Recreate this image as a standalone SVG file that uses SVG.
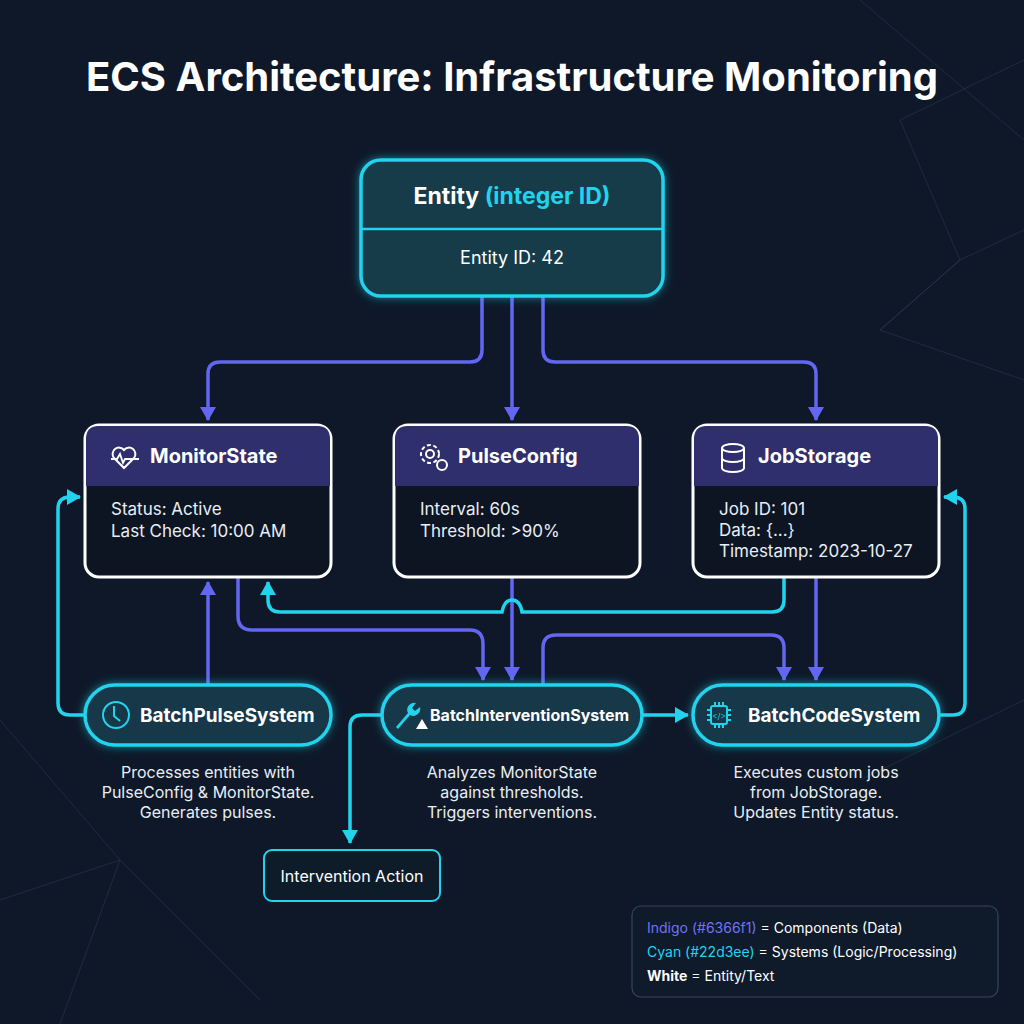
<svg xmlns="http://www.w3.org/2000/svg" width="1024" height="1024" viewBox="0 0 1024 1024">
<defs>
<style>
text{font-family:Inter,"Noto Sans","Liberation Sans",sans-serif;fill:#fff}
.t{font-weight:700}
.h{font-size:20px;font-weight:700}
.b{font-size:17px;fill:#e8eef5}
.d{font-size:16px;fill:#e8eef5;text-anchor:middle}
.ind{fill:none;stroke:#6366f1;stroke-width:3.5}
.cy{fill:none;stroke:#22d3ee;stroke-width:3.5}
.comp{fill:#0d1523;stroke:#fff;stroke-width:3}
.sys{fill:#12394a;stroke:#22d3ee;stroke-width:3.5;filter:url(#glow)}
.ic{fill:none;stroke:#fff;stroke-width:2}
.icc{fill:none;stroke:#22d3ee;stroke-width:2}
.bg{fill:none;stroke:#2a3a4e;stroke-width:1;opacity:.6}
.ctext{fill:#22d3ee}
.itext{fill:#7073f5}
</style>
<filter id="glow" x="-20%" y="-30%" width="140%" height="160%"><feGaussianBlur in="SourceAlpha" stdDeviation="5" result="b"/><feFlood flood-color="#22d3ee" flood-opacity=".55"/><feComposite in2="b" operator="in" result="g"/><feMerge><feMergeNode in="g"/><feMergeNode in="SourceGraphic"/></feMerge></filter>
<marker id="ai2" markerWidth="14" markerHeight="16" refX="13" refY="8" orient="auto" markerUnits="userSpaceOnUse"><path d="M0 0L14 8L0 16z" fill="#6366f1"/></marker>
<marker id="ac2" markerWidth="14" markerHeight="16" refX="13" refY="8" orient="auto" markerUnits="userSpaceOnUse"><path d="M0 0L14 8L0 16z" fill="#22d3ee"/></marker>
</defs>
<rect width="1024" height="1024" fill="#0e1828"/>
<g id="bgnet">
<path class="bg" d="M860 0L1024 140M900 120L1024 60M900 120L960 260L1024 230M960 260L880 330L1024 380M0 720L120 860L60 1024M120 860L260 1000M0 900L120 860M860 780L1024 700M880 330L960 260"/>
</g>
<text x="512" y="91" class="t" font-size="40" text-anchor="middle">ECS Architecture: Infrastructure Monitoring</text>

<g id="connectors">
<path class="ind" d="M482 296V350Q482 362 470 362H220Q208 362 208 374V420" marker-end="url(#ai2)"/>
<path class="ind" d="M512 296V420" marker-end="url(#ai2)"/>
<path class="ind" d="M543 296V350Q543 362 555 362H804Q816 362 816 374V420" marker-end="url(#ai2)"/>
<path class="ind" d="M238 577V616Q238 630 252 630H470Q483 630 483 644V680" marker-end="url(#ai2)"/>
<path class="ind" d="M512 577V680" marker-end="url(#ai2)"/>
<path class="cy" d="M784 577V600Q784 612 772 612H522Q520 600 512 600Q504 600 502 612H280Q268 612 268 600V582" marker-end="url(#ac2)"/>
<path class="ind" d="M543 685V648Q543 635 556 635H771Q784 635 784 648V680" marker-end="url(#ai2)"/>
<path class="ind" d="M816 577V680" marker-end="url(#ai2)"/>
<path class="ind" d="M208 685V582" marker-end="url(#ai2)"/>
<path class="cy" d="M85 715H70Q58 715 58 703V509Q58 497 70 497H80" marker-end="url(#ac2)"/>
<path class="cy" d="M939 715H953Q965 715 965 703V509Q965 497 953 497H944" marker-end="url(#ac2)"/>
<path class="cy" d="M642 715H688" marker-end="url(#ac2)"/>
<path class="cy" d="M382 715H362Q350 715 350 727V843" marker-end="url(#ac2)"/>
</g>

<g id="entity">
<rect x="361" y="160" width="302" height="136" rx="20" fill="#123a4a" stroke="#22d3ee" stroke-width="3.5" filter="url(#glow)"/>
<line x1="362" y1="229" x2="662" y2="229" stroke="#22d3ee" stroke-width="2.5"/>
<text x="512" y="204" font-size="23" font-weight="700" text-anchor="middle">Entity <tspan class="ctext">(integer ID)</tspan></text>
<text x="512" y="264" font-size="18" text-anchor="middle">Entity ID: 42</text>
</g>

<g id="monitorstate">
<rect class="comp" x="85" y="425" width="246" height="152" rx="14"/>
<path d="M99 426H317Q330 426 330 439V486H86V439Q86 426 99 426Z" fill="#2e2f6c"/>
<path class="ic" d="M124 468l-10-10a6 6 0 0 1 10-8 6 6 0 0 1 10 8z"/>
<path d="M111 459h6l3-5 3 9 2-4h14" fill="none" stroke="#fff" stroke-width="1.8"/>
<text x="150" y="463" class="h">MonitorState</text>
<text x="111" y="515" class="b">Status: Active</text>
<text x="111" y="537" class="b">Last Check: 10:00 AM</text>
</g>
<g id="pulseconfig">
<rect class="comp" x="394" y="425" width="246" height="152" rx="14"/>
<path d="M408 426H626Q639 426 639 439V486H395V439Q395 426 408 426Z" fill="#2e2f6c"/>
<circle class="ic" cx="430" cy="454" r="9" stroke-dasharray="4 2.5"/>
<circle class="ic" cx="430" cy="454" r="4"/>
<circle class="ic" cx="442" cy="465" r="5"/>
<text x="458" y="463" class="h">PulseConfig</text>
<text x="420" y="515" class="b">Interval: 60s</text>
<text x="420" y="537" class="b">Threshold: &gt;90%</text>
</g>
<g id="jobstorage">
<rect class="comp" x="693" y="425" width="246" height="152" rx="14"/>
<path d="M707 426H925Q938 426 938 439V486H694V439Q694 426 707 426Z" fill="#2e2f6c"/>
<ellipse class="ic" cx="733" cy="448" rx="11" ry="4"/>
<path class="ic" d="M722 448v20a11 4 0 0 0 22 0v-20M722 458a11 4 0 0 0 22 0"/>
<text x="758" y="463" class="h">JobStorage</text>
<text x="719" y="515" class="b">Job ID: 101</text>
<text x="719" y="536" class="b">Data: {...}</text>
<text x="719" y="557" class="b">Timestamp: 2023-10-27</text>
</g>

<g id="batchpulse">
<rect class="sys" x="85" y="685" width="246" height="60" rx="30"/>
<circle class="icc" cx="116" cy="715" r="13"/>
<path class="icc" d="M114 706v10l6 5"/>
<text x="140" y="722" font-size="19" font-weight="700">BatchPulseSystem</text>
<text x="208" y="778" class="d">Processes entities with</text>
<text x="208" y="798" class="d">PulseConfig &amp; MonitorState.</text>
<text x="208" y="818" class="d">Generates pulses.</text>
</g>
<g id="batchintervention">
<rect class="sys" x="382" y="685" width="260" height="60" rx="30"/>
<path d="M396 727l12-14a7 7 0 0 1 8-10l-4 5 3 3 5-4a7 7 0 0 1-10 8l-12 14z" fill="#22d3ee"/>
<path d="M416 729l6-10 6 10z" fill="#fff"/>
<text x="430" y="721" font-size="16" font-weight="700">BatchInterventionSystem</text>
<text x="512" y="778" class="d">Analyzes MonitorState</text>
<text x="512" y="798" class="d">against thresholds.</text>
<text x="512" y="818" class="d">Triggers interventions.</text>
</g>
<g id="batchcode">
<rect class="sys" x="693" y="685" width="246" height="60" rx="30"/>
<rect class="icc" x="711" y="706" width="16" height="18" rx="2"/>
<path class="icc" stroke-width="1.5" d="M707 710h4M707 715h4M707 720h4M727 710h4M727 715h4M727 720h4M715 702v4M719 702v4M723 702v4M715 724v4M719 724v4M723 724v4"/>
<text x="719" y="719" font-size="8" class="ctext" text-anchor="middle">&lt;/&gt;</text>
<text x="748" y="722" font-size="19" font-weight="700">BatchCodeSystem</text>
<text x="816" y="778" class="d">Executes custom jobs</text>
<text x="816" y="798" class="d">from JobStorage.</text>
<text x="816" y="818" class="d">Updates Entity status.</text>
</g>
<g id="interventionaction">
<rect x="264" y="850" width="176" height="51" rx="8" fill="#0e1c2a" stroke="#22d3ee" stroke-width="2"/>
<text x="352" y="882" font-size="16" text-anchor="middle">Intervention Action</text>
</g>
<g id="legend">
<rect x="632" y="906" width="366" height="91" rx="9" fill="#0f1a2a" stroke="#34465a" stroke-width="1.2"/>
<text x="647" y="933" font-size="14"><tspan class="itext">Indigo (#6366f1)</tspan> = Components (Data)</text>
<text x="647" y="957" font-size="14"><tspan class="ctext">Cyan (#22d3ee)</tspan> = Systems (Logic/Processing)</text>
<text x="647" y="981" font-size="14"><tspan font-weight="700">White</tspan> = Entity/Text</text>
</g>
</svg>
